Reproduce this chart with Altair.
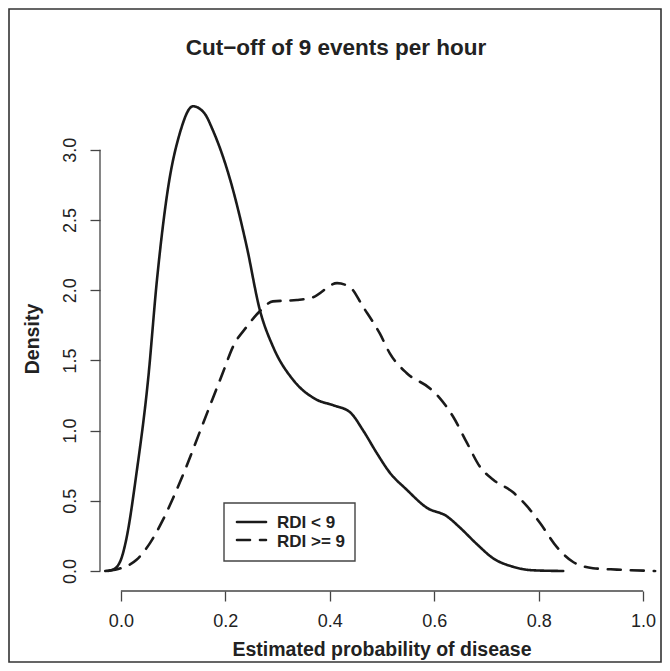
import altair as alt
import pandas as pd

# ---- data ----
series = ["RDI < 9", "RDI >= 9"]

x_low = [-0.03, -0.015, 0.0, 0.01, 0.03, 0.052, 0.069, 0.09, 0.113, 0.138, 0.16,
         0.176, 0.209, 0.241, 0.266, 0.291, 0.33, 0.375, 0.407, 0.439, 0.464,
         0.49, 0.515, 0.547, 0.586, 0.624, 0.649, 0.682, 0.713, 0.751, 0.789, 0.847]
d_low = [0.0, 0.01, 0.08, 0.22, 0.7, 1.36, 2.07, 2.72, 3.12, 3.31, 3.26,
         3.14, 2.79, 2.31, 1.86, 1.60, 1.36, 1.22, 1.18, 1.13, 1.0,
         0.84, 0.70, 0.58, 0.45, 0.39, 0.31, 0.19, 0.09, 0.03, 0.005, 0.0]

x_high = [-0.025, 0.0, 0.03, 0.056, 0.08, 0.1, 0.125, 0.15, 0.175, 0.195, 0.215,
          0.241, 0.266, 0.291, 0.337, 0.368, 0.414, 0.439, 0.464, 0.496, 0.515,
          0.547, 0.592, 0.611, 0.636, 0.663, 0.688, 0.713, 0.751, 0.778, 0.803,
          0.835, 0.866, 0.904, 0.95, 1.023]
d_high = [0.0, 0.02, 0.08, 0.2, 0.36, 0.52, 0.74, 0.98, 1.22, 1.41, 1.6,
          1.74, 1.85, 1.92, 1.93, 1.95, 2.05, 2.02, 1.88, 1.69, 1.55,
          1.41, 1.30, 1.23, 1.10, 0.91, 0.74, 0.65, 0.56, 0.46, 0.34,
          0.17, 0.064, 0.02, 0.01, 0.0]

x_ticks = [0.0, 0.2, 0.4, 0.6, 0.8, 1.0]
y_ticks = [0.0, 0.5, 1.0, 1.5, 2.0, 2.5, 3.0]

main_title = "Cut\u2212off of 9 events per hour"
x_title = "Estimated probability of disease"
y_title = "Density"

# ---- build ----
df = pd.concat([
    pd.DataFrame({"x": x_low, "d": d_low, "g": series[0]}),
    pd.DataFrame({"x": x_high, "d": d_high, "g": series[1]}),
], ignore_index=True)

FONT = "Liberation Sans Narrow, Arial Narrow, Liberation Sans, Arial, sans-serif"
INK = "#1a1a1a"
AX = "#444444"
W, H = 554, 503

xs = alt.Scale(domain=[-0.04, 1.04 - 10 / 522], nice=False, zero=False)
ys = alt.Scale(domain=[-0.1425, 3.44], nice=False, zero=False)

xax = alt.Axis(values=x_ticks, format=".1f", domain=False, grid=False, tickSize=10,
               tickColor=AX, tickWidth=1.3, labelFont=FONT, labelFontSize=18,
               labelColor="#222222", labelBaseline="alphabetic", labelPadding=25,
               labelFlush=False, title=None)
yax = alt.Axis(values=y_ticks, format=".1f", domain=False, grid=False, tickSize=10,
               tickColor=AX, tickWidth=1.3, labelFont=FONT, labelFontSize=18,
               labelColor="#222222", labelAngle=270, labelAlign="center",
               labelBaseline="alphabetic", labelPadding=15, title=None)

lines = alt.Chart(df).mark_line(
    strokeWidth=2.6, color=INK, interpolate="monotone", strokeCap="round", strokeJoin="round"
).encode(
    x=alt.X("x:Q", scale=xs, axis=xax),
    y=alt.Y("d:Q", scale=ys, axis=yax),
    strokeDash=alt.StrokeDash("g:N", scale=alt.Scale(domain=series, range=[[1, 0], [13, 10]]), legend=None),
    detail="g:N",
)

yline = alt.Chart(pd.DataFrame({"d": [y_ticks[0]], "d2": [y_ticks[-1]]})).mark_rule(
    color=AX, strokeWidth=1.3
).encode(x=alt.value(0), y=alt.Y("d:Q", scale=ys, axis=yax), y2="d2:Q")

xline = alt.Chart(pd.DataFrame({"x": [x_ticks[0]], "x2": [x_ticks[-1]]})).mark_rule(
    color=AX, strokeWidth=1.3
).encode(y=alt.value(H), x=alt.X("x:Q", scale=xs, axis=xax), x2="x2:Q")

def label(text, x, y, size, angle=0, align="center", baseline="alphabetic", bold=True):
    kw = dict(font=FONT, fontSize=size, fontWeight="bold" if bold else "normal",
              color="#222222", align=align, baseline=baseline)
    if angle:
        kw["angle"] = angle
    return alt.Chart(pd.DataFrame({"t": [text]})).mark_text(**kw).encode(
        x=alt.value(x), y=alt.value(y), text="t:N")

t_main = label(main_title, 236, -33, 22.5)
t_x = label(x_title, 282, 568, 19.5)
t_y = label(y_title, -67, 251, 19.5, angle=270, baseline="middle")

one = pd.DataFrame({"a": [0]})
frame = alt.Chart(one).mark_rect(fillOpacity=0, stroke="#333333", strokeWidth=1.6).encode(
    x=alt.value(-91), x2=alt.value(561), y=alt.value(-79), y2=alt.value(574))

leg_box = alt.Chart(one).mark_rect(fill="white", stroke=AX, strokeWidth=1.4).encode(
    x=alt.value(124), x2=alt.value(255), y=alt.value(415), y2=alt.value(473))
leg_l1 = alt.Chart(one).mark_rule(color=INK, strokeWidth=2.6, strokeCap="round").encode(
    x=alt.value(137), x2=alt.value(166), y=alt.value(434))
leg_l2 = alt.Chart(one).mark_rule(color=INK, strokeWidth=2.6, strokeCap="round",
                                   strokeDash=[13, 10]).encode(
    x=alt.value(137), x2=alt.value(166), y=alt.value(452))
leg_t1 = label(series[0], 177, 440, 17, align="left")
leg_t2 = label(series[1], 177, 458.5, 17, align="left")

chart = alt.layer(
    frame, lines, yline, xline, leg_box, leg_l1, leg_l2, leg_t1, leg_t2, t_main, t_x, t_y
).properties(
    width=W, height=H,
    autosize=alt.AutoSizeParams(type="none"),
    padding={"left": 92, "top": 80, "right": 8, "bottom": 72},
    background="white",
).configure_view(stroke=None)

chart.save("out.html", embed_options={"renderer": "svg", "actions": False})
